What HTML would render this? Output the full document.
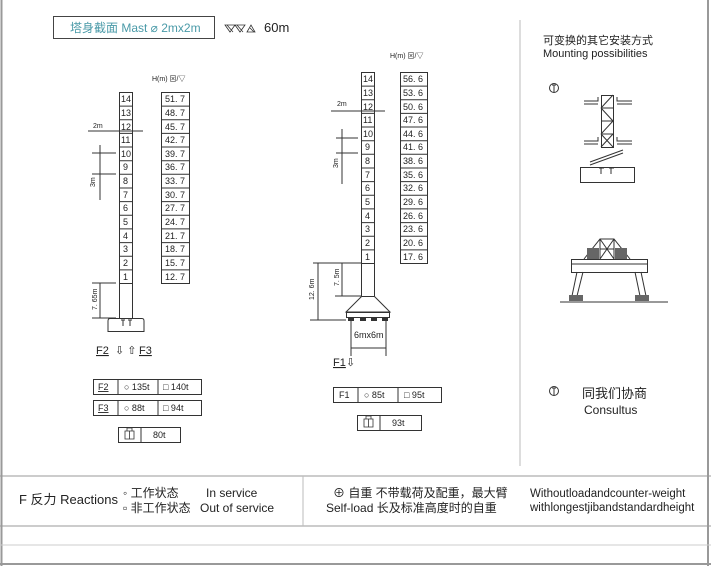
<!DOCTYPE html>
<html><head><meta charset="utf-8"><style>
html,body{margin:0;padding:0;background:#fff;}
svg{display:block;font-family:"Liberation Sans","Noto Sans CJK SC",sans-serif;}
.c{font-size:9px;fill:#222;font-family:"Liberation Sans Narrow","Liberation Sans",sans-serif;}
</style></head><body>
<svg width="711" height="566" viewBox="0 0 711 566" xmlns="http://www.w3.org/2000/svg">
<g stroke="#999" fill="none">
<line x1="1.5" y1="0" x2="1.5" y2="566" stroke-width="2"/>
<line x1="708" y1="0" x2="708" y2="566" stroke-width="2"/>
<line x1="0" y1="476" x2="711" y2="476"/>
<line x1="0" y1="526" x2="711" y2="526"/>
<line x1="0" y1="545" x2="711" y2="545" stroke="#ccc"/>
<line x1="0" y1="564" x2="711" y2="564" stroke-width="2"/>
<line x1="303" y1="476" x2="303" y2="526" stroke="#bbb"/>
<line x1="520" y1="20" x2="520" y2="466" stroke="#bbb"/>
</g>
<!-- header -->
<rect x="53.5" y="16.5" width="161" height="22" fill="none" stroke="#444"/>
<text x="70" y="32" font-size="12" fill="#4a9aa8">塔身截面 Mast ⌀ 2mx2m</text>
<g stroke="#333" fill="none" stroke-width="0.8">
<path d="M225 25H235L230 32Z M227 25L233 32 M235 25H245L240 32Z M237 25L243 32 M247 32L251 25L255 32Z M250 28L254 32"/>
</g>
<text x="264" y="32" font-size="13" fill="#222">60m</text>

<g stroke="#333" fill="none" stroke-width="1">
<rect x="119.5" y="92.5" width="13" height="191"/>
<line x1="119.5" y1="283" x2="119.5" y2="318"/><line x1="132.5" y1="283" x2="132.5" y2="318"/>
<path d="M110 318.5 H142 Q144 318.5 144 321 V331.5 H108 V321 Q108 318.5 110 318.5Z"/>
<path d="M123 320 V326 M121 320 H125 M130 320 V326 M128 320 H132"/>
<line x1="88" y1="131" x2="143" y2="131"/>
<line x1="92" y1="153" x2="116" y2="153"/><line x1="92" y1="174" x2="116" y2="174"/>
<line x1="100" y1="145" x2="100" y2="200"/>
<line x1="92" y1="283" x2="116" y2="283"/><line x1="92" y1="318" x2="116" y2="318"/>
<line x1="100" y1="283" x2="100" y2="318"/>
<rect x="161.5" y="92.5" width="28" height="191"/>
<rect x="361.5" y="72.5" width="13" height="191"/>
<line x1="361.5" y1="263" x2="361.5" y2="296"/><line x1="374.5" y1="263" x2="374.5" y2="296"/>
<path d="M361.5 296.5 H374.5 L390 312 H346 Z"/>
<rect x="346.5" y="312.5" width="43" height="5"/>
<line x1="331" y1="111" x2="385" y2="111"/>
<line x1="336" y1="138" x2="358" y2="138"/><line x1="336" y1="153" x2="358" y2="153"/>
<line x1="342" y1="129" x2="342" y2="184"/>
<line x1="313" y1="263" x2="361" y2="263"/><line x1="335" y1="296" x2="361" y2="296"/>
<line x1="310" y1="320" x2="346" y2="320"/>
<line x1="318" y1="263" x2="318" y2="320"/><line x1="342" y1="263" x2="342" y2="296"/>
<line x1="351" y1="318" x2="351" y2="356"/><line x1="386" y1="318" x2="386" y2="356"/>
<line x1="351" y1="348" x2="386" y2="348"/>
<rect x="400.5" y="72.5" width="27" height="191"/>
</g>
<g fill="#333" stroke="none">
<rect x="348" y="318" width="6" height="3"/><rect x="360" y="318" width="6" height="3"/><rect x="371" y="318" width="6" height="3"/><rect x="382" y="318" width="6" height="3"/>
</g>
<g stroke="#333" stroke-width="1">
<path d="M119 106.1H132M119 119.8H132M119 133.4H132M119 147H132M119 160.7H132M119 174.3H132M119 188H132M119 201.6H132M119 215.3H132M119 228.9H132M119 242.6H132M119 256.2H132M119 269.9H132"/>
<path d="M161 106.1H189M161 119.8H189M161 133.4H189M161 147H189M161 160.7H189M161 174.3H189M161 188H189M161 201.6H189M161 215.3H189M161 228.9H189M161 242.6H189M161 256.2H189M161 269.9H189"/>
<path d="M361 86.1H374M361 99.8H374M361 113.4H374M361 127H374M361 140.7H374M361 154.3H374M361 168H374M361 181.6H374M361 195.3H374M361 208.9H374M361 222.6H374M361 236.2H374M361 249.9H374"/>
<path d="M400 86.1H427M400 99.8H427M400 113.4H427M400 127H427M400 140.7H427M400 154.3H427M400 168H427M400 181.6H427M400 195.3H427M400 208.9H427M400 222.6H427M400 236.2H427M400 249.9H427"/>
</g>
<g class="c">
<text x="121" y="102">14</text><text x="121" y="116">13</text><text x="121" y="130">12</text><text x="121" y="143">11</text><text x="121" y="157">10</text><text x="123" y="170">9</text><text x="123" y="184">8</text><text x="123" y="198">7</text><text x="123" y="211">6</text><text x="123" y="225">5</text><text x="123" y="239">4</text><text x="123" y="252">3</text><text x="123" y="266">2</text><text x="123" y="280">1</text>
<text x="165" y="102">51. 7</text><text x="165" y="116">48. 7</text><text x="165" y="130">45. 7</text><text x="165" y="143">42. 7</text><text x="165" y="157">39. 7</text><text x="165" y="170">36. 7</text><text x="165" y="184">33. 7</text><text x="165" y="198">30. 7</text><text x="165" y="211">27. 7</text><text x="165" y="225">24. 7</text><text x="165" y="239">21. 7</text><text x="165" y="252">18. 7</text><text x="165" y="266">15. 7</text><text x="165" y="280">12. 7</text>
<text x="363" y="82">14</text><text x="363" y="96">13</text><text x="363" y="110">12</text><text x="363" y="123">11</text><text x="363" y="137">10</text><text x="365" y="150">9</text><text x="365" y="164">8</text><text x="365" y="178">7</text><text x="365" y="191">6</text><text x="365" y="205">5</text><text x="365" y="219">4</text><text x="365" y="232">3</text><text x="365" y="246">2</text><text x="365" y="260">1</text>
<text x="403" y="82">56. 6</text><text x="403" y="96">53. 6</text><text x="403" y="110">50. 6</text><text x="403" y="123">47. 6</text><text x="403" y="137">44. 6</text><text x="403" y="150">41. 6</text><text x="403" y="164">38. 6</text><text x="403" y="178">35. 6</text><text x="403" y="191">32. 6</text><text x="403" y="205">29. 6</text><text x="403" y="219">26. 6</text><text x="403" y="232">23. 6</text><text x="403" y="246">20. 6</text><text x="403" y="260">17. 6</text>
</g>
<g font-size="7" fill="#222">
<text x="152" y="81">H(m) ⊠/▽</text><text x="390" y="58">H(m) ⊠/▽</text>
<text x="93" y="128">2m</text><text x="337" y="106">2m</text>
<text transform="translate(95,187) rotate(-90)">3m</text>
<text transform="translate(338,168) rotate(-90)">3m</text>
<text transform="translate(97,310) rotate(-90)">7. 65m</text>
<text transform="translate(314,300) rotate(-90)">12. 6m</text>
<text transform="translate(339,286) rotate(-90)">7. 5m</text>
<text x="354" y="338" font-size="9">6mx6m</text>
</g>
<g font-size="11" fill="#222" font-family="Liberation Sans Narrow, Liberation Sans, sans-serif">
<text x="96" y="354" text-decoration="underline">F2</text><text x="115" y="354">⇩ ⇧</text><text x="139" y="354" text-decoration="underline">F3</text>
<text x="333" y="366" text-decoration="underline">F1</text><text x="346" y="366">⇩</text>
</g>
<g stroke="#333" fill="none">
<rect x="93.5" y="379.5" width="108" height="15"/><path d="M118 379V394M158 379V394"/>
<rect x="93.5" y="400.5" width="108" height="15"/><path d="M118 400V415M158 400V415"/>
<rect x="118.5" y="427.5" width="62" height="15"/><path d="M141 427V442"/>
<rect x="333.5" y="387.5" width="108" height="15"/><path d="M358 387V402M398 387V402"/>
<rect x="357.5" y="415.5" width="64" height="15"/><path d="M380 415V430"/>
<path d="M125 431H134V439H125Z M127 431V428H132V431 M129.5 431V439" stroke-width="0.8"/>
<path d="M364 419H373V427H364Z M366 419V416H371V419 M368.5 419V427" stroke-width="0.8"/>
</g>
<g class="c">
<text x="98" y="390" text-decoration="underline">F2</text><text x="124" y="390">○ 135t</text><text x="163" y="390">□ 140t</text>
<text x="98" y="411" text-decoration="underline">F3</text><text x="124" y="411">○ 88t</text><text x="163" y="411">□ 94t</text>
<text x="153" y="438">80t</text>
<text x="339" y="398">F1</text><text x="364" y="398">○ 85t</text><text x="404" y="398">□ 95t</text>
<text x="392" y="426">93t</text>
</g>
<text x="543" y="44" font-size="11" fill="#222">可变换的其它安装方式</text>
<text x="543" y="57" font-size="11" fill="#222">Mounting  possibilities</text>
<g stroke="#333" fill="none">
<circle cx="554" cy="88" r="4.5"/><path d="M554 85V92M552 85H556"/>
<circle cx="554" cy="391" r="4.5"/><path d="M554 388V395M552 388H556"/>
<rect x="601.5" y="95.5" width="12" height="52"/>
<path d="M601 108H613M601 121H613M601 134H613M601 108L613 95M601 108L613 121M601 134L613 121M601 134L613 147M601 147L613 134"/>
<path d="M584 101H598V97M584 104H598M617 97V101H632M617 104H632M584 141H598V137M584 144H598M617 137V141H632M617 144H632"/>
<path d="M590 162L623 150M590 165L623 153"/>
<rect x="580.5" y="167.5" width="54" height="15"/>
<path d="M601 168V174M599 168H604M611 168V174M609 168H614"/>
<path d="M571.5 259.5H647.5V272.5H571.5Z M571 264H647"/>
<path d="M577 272L572 296M583 272L577 296M641 272L646 296M635 272L640 296"/>
<line x1="560" y1="302" x2="668" y2="302"/>
<path d="M584 259L600 239H614L630 259 M600 239V259M614 239V259 M600 239L614 259M614 239L600 259 M600 249H614"/>
</g>
<g fill="#666"><rect x="587" y="248" width="12" height="11"/><rect x="615" y="248" width="12" height="11"/>
<rect x="569" y="295" width="14" height="6"/><rect x="635" y="295" width="14" height="6"/></g>
<text x="582" y="398" font-size="13" fill="#222">同我们协商</text>
<text x="584" y="414" font-size="12" fill="#222">Consultus</text>
<g font-size="12" fill="#222">
<text x="19" y="504" font-size="13">F 反力  Reactions</text>
<text x="123" y="497" font-size="12">◦ 工作状态</text><text x="206" y="497" font-size="12">In service</text>
<text x="123" y="512" font-size="12">▫ 非工作状态</text><text x="200" y="512" font-size="12">Out of service</text>
<text x="333" y="497" font-size="12">⊕  自重  不带载荷及配重，最大臂</text>
<text x="326" y="512" font-size="12">Self-load  长及标准高度时的自重</text>
<text x="530" y="497" font-size="11.5">Withoutloadandcounter-weight</text>
<text x="530" y="511" font-size="11.5">withlongestjibandstandardheight</text>
</g>
</svg>
</body></html>
